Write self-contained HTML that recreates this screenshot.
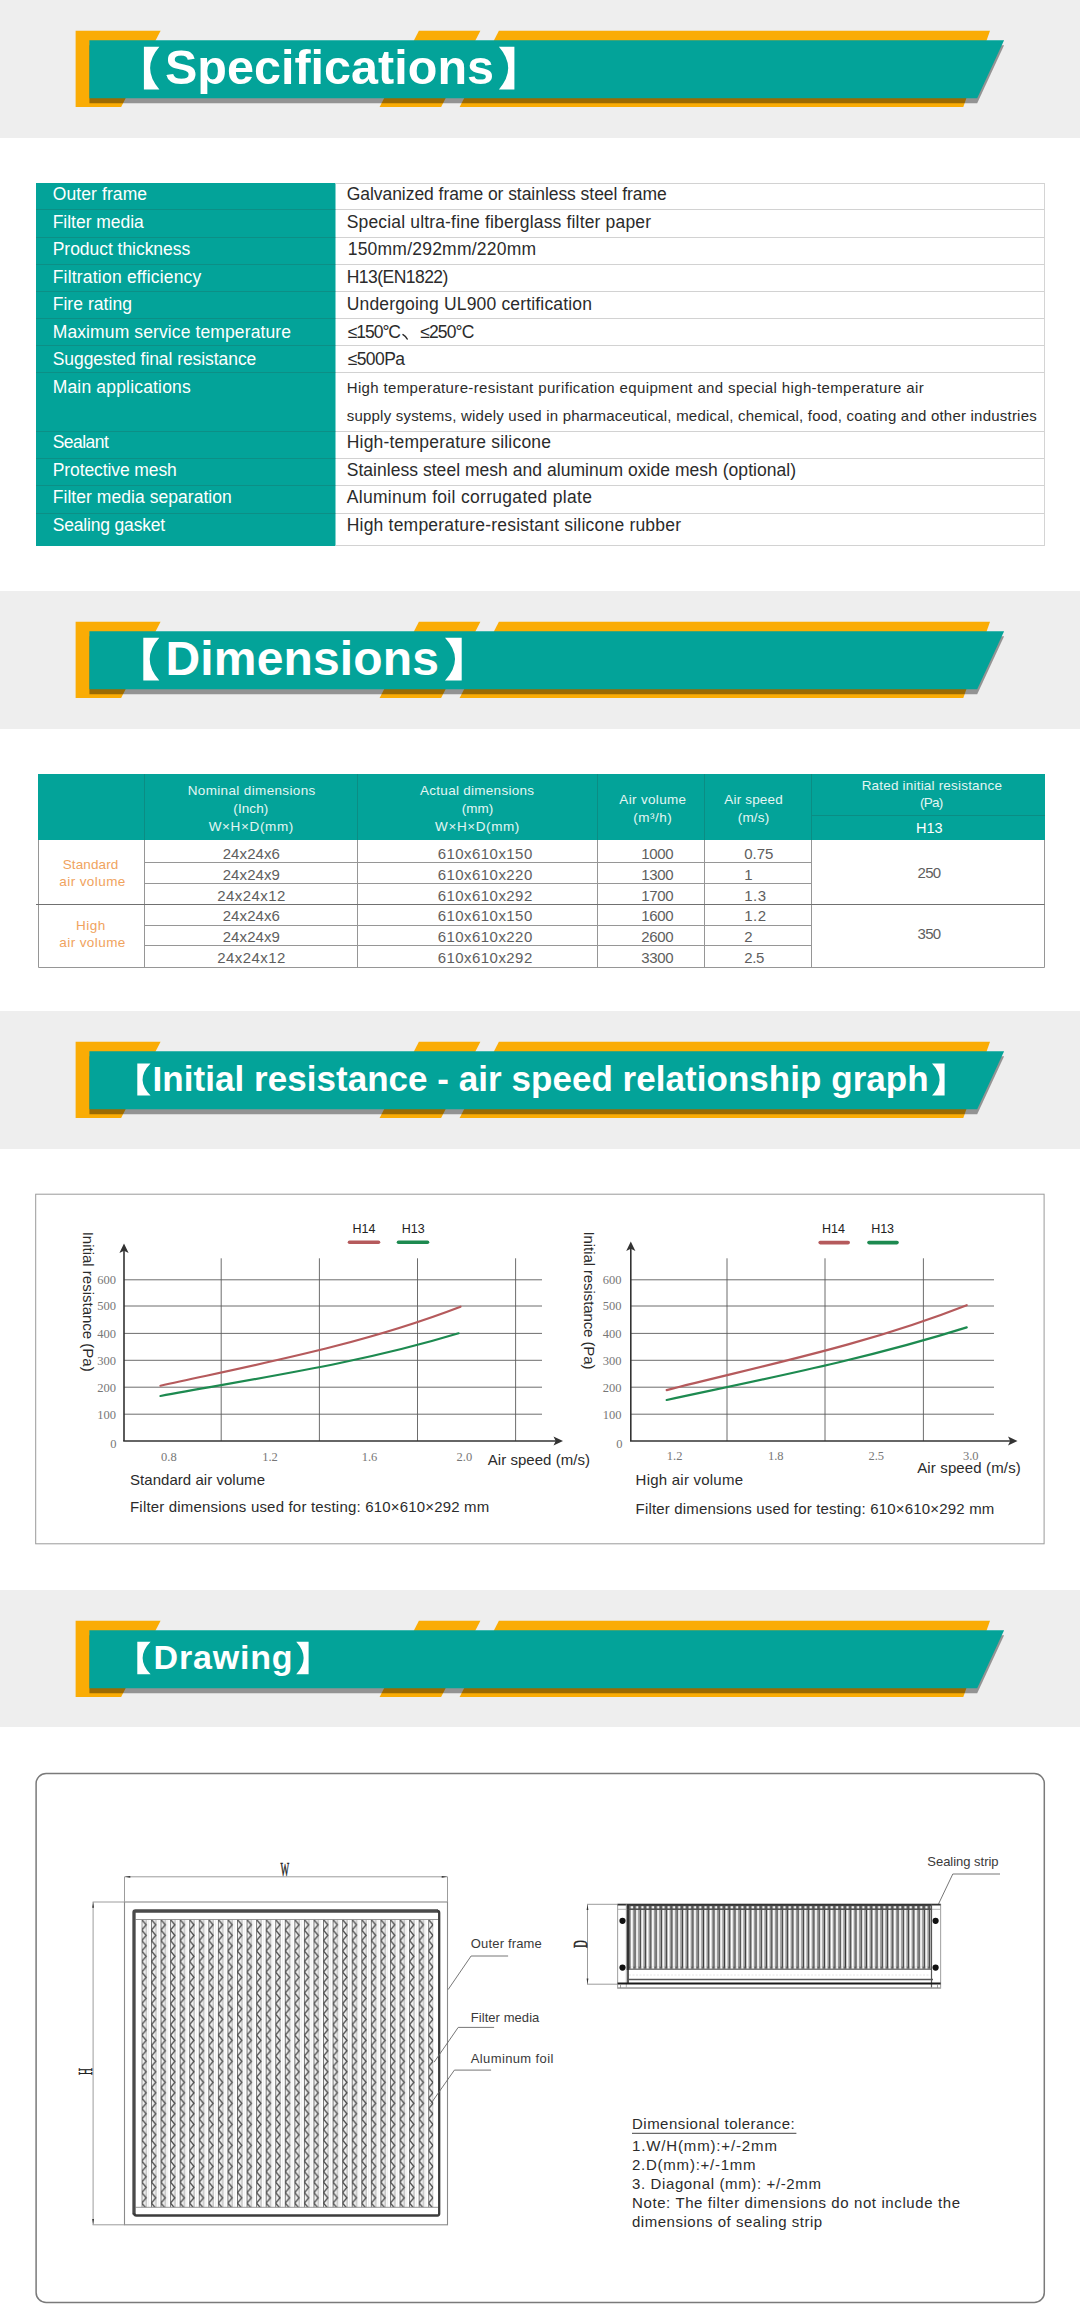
<!DOCTYPE html>
<html><head><meta charset="utf-8"><title>Specifications</title>
<style>
html,body{margin:0;padding:0;background:#fff;}
body{width:1080px;height:2322px;position:relative;overflow:hidden;font-family:"Liberation Sans",sans-serif;color:#222;}
.abs{position:absolute;}
.band{position:absolute;left:0;width:1080px;background:#eeeeee;}
.ttl{position:absolute;color:#fff;font-weight:bold;white-space:nowrap;line-height:1;}
.t1 td{padding:0;}
.spec{position:absolute;left:36px;top:183px;width:1008px;border-collapse:collapse;table-layout:fixed;}
.spec td{height:26.6px;border:1px solid #dcdcdc;font-size:17.5px;white-space:nowrap;overflow:hidden;padding:0 0 0 10px;line-height:20px;color:#2a2a2a;}
.spec td.k{background:#03a399;color:#fff;border-color:#0a8f86;padding-left:16px;border-left:none;}
.lbl{position:absolute;white-space:nowrap;line-height:1;}
</style></head><body>

<div class="band" style="top:0px;height:138.3px"></div>
<svg class="abs" style="left:0;top:0px" width="1080" height="138.3" viewBox="0 0 1080 138.3">
<g fill="#faac05">
<polygon points="75.6,30.8 160.6,30.8 121.1,107 75.6,107"/>
<polygon points="418.9,30.8 480.4,30.8 441.1,107 379.6,107"/>
<polygon points="498.9,30.8 990,30.8 963.3,107 459.6,107"/>
</g>
<polygon points="89.4,45.2 1004.1,45.2 977.2,103.3 89.4,103.3" fill="#000" fill-opacity="0.38"/>
<polygon points="89.4,40.2 1004.1,40.2 977.2,98.3 89.4,98.3" fill="#03a399"/>
<path d="M143.9,46.7 H159.4 Q140.80,68.05 159.4,89.4 H143.9 Z" fill="#fff"/>
<path d="M514.4,46.7 H498.9 Q517.50,68.05 498.9,89.4 H514.4 Z" fill="#fff"/>
<text x="165" y="84" font-family="Liberation Sans, sans-serif" font-weight="bold" font-size="48.5" fill="#fff" textLength="329" lengthAdjust="spacing">Specifications</text>
</svg>
<div class="band" style="top:590.5px;height:138.5px"></div>
<svg class="abs" style="left:0;top:590.5px" width="1080" height="138.5" viewBox="0 0 1080 138.5">
<g fill="#faac05">
<polygon points="75.6,30.8 160.6,30.8 121.1,107 75.6,107"/>
<polygon points="418.9,30.8 480.4,30.8 441.1,107 379.6,107"/>
<polygon points="498.9,30.8 990,30.8 963.3,107 459.6,107"/>
</g>
<polygon points="89.4,45.2 1004.1,45.2 977.2,103.3 89.4,103.3" fill="#000" fill-opacity="0.38"/>
<polygon points="89.4,40.2 1004.1,40.2 977.2,98.3 89.4,98.3" fill="#03a399"/>
<path d="M143.3,46.8 H159.3 Q140.10,68.15 159.3,89.5 H143.3 Z" fill="#fff"/>
<path d="M461.7,46.8 H445 Q465.04,68.15 445,89.5 H461.7 Z" fill="#fff"/>
<text x="165.5" y="83.5" font-family="Liberation Sans, sans-serif" font-weight="bold" font-size="48" fill="#fff" textLength="273.5" lengthAdjust="spacing">Dimensions</text>
</svg>
<div class="band" style="top:1011px;height:138px"></div>
<svg class="abs" style="left:0;top:1011px" width="1080" height="138" viewBox="0 0 1080 138">
<g fill="#faac05">
<polygon points="75.6,30.8 160.6,30.8 121.1,107 75.6,107"/>
<polygon points="418.9,30.8 480.4,30.8 441.1,107 379.6,107"/>
<polygon points="498.9,30.8 990,30.8 963.3,107 459.6,107"/>
</g>
<polygon points="89.4,45.2 1004.1,45.2 977.2,103.3 89.4,103.3" fill="#000" fill-opacity="0.38"/>
<polygon points="89.4,40.2 1004.1,40.2 977.2,98.3 89.4,98.3" fill="#03a399"/>
<path d="M137.3,52.4 H150.6 Q134.64,68.40 150.6,84.4 H137.3 Z" fill="#fff"/>
<path d="M944.6,52.4 H932 Q947.12,68.40 932,84.4 H944.6 Z" fill="#fff"/>
<text x="152.6" y="80" font-family="Liberation Sans, sans-serif" font-weight="bold" font-size="35" fill="#fff" textLength="776" lengthAdjust="spacing">Initial resistance - air speed relationship graph</text>
</svg>
<div class="band" style="top:1589.7px;height:137px"></div>
<svg class="abs" style="left:0;top:1589.7px" width="1080" height="137" viewBox="0 0 1080 137">
<g fill="#faac05">
<polygon points="75.6,30.8 160.6,30.8 121.1,107 75.6,107"/>
<polygon points="418.9,30.8 480.4,30.8 441.1,107 379.6,107"/>
<polygon points="498.9,30.8 990,30.8 963.3,107 459.6,107"/>
</g>
<polygon points="89.4,45.2 1004.1,45.2 977.2,103.3 89.4,103.3" fill="#000" fill-opacity="0.38"/>
<polygon points="89.4,40.2 1004.1,40.2 977.2,98.3 89.4,98.3" fill="#03a399"/>
<path d="M137.3,51.7 H150.6 Q134.64,68.00 150.6,84.3 H137.3 Z" fill="#fff"/>
<path d="M308.6,51.7 H296.2 Q311.08,68.00 296.2,84.3 H308.6 Z" fill="#fff"/>
<text x="153.6" y="79.2" font-family="Liberation Sans, sans-serif" font-weight="bold" font-size="34" fill="#fff" textLength="139" lengthAdjust="spacing">Drawing</text>
</svg>
<svg class="abs" style="left:0;top:0" width="1080" height="2322" viewBox="0 0 1080 2322">
<rect x="36" y="183" width="299.5" height="363" fill="#03a399"/>
<line x1="335.5" y1="183.5" x2="1045" y2="183.5" stroke="#d2d2d2" stroke-width="1"/>
<line x1="335.5" y1="209.5" x2="1045" y2="209.5" stroke="#d2d2d2" stroke-width="1"/>
<line x1="335.5" y1="237.5" x2="1045" y2="237.5" stroke="#d2d2d2" stroke-width="1"/>
<line x1="335.5" y1="264.5" x2="1045" y2="264.5" stroke="#d2d2d2" stroke-width="1"/>
<line x1="335.5" y1="291.5" x2="1045" y2="291.5" stroke="#d2d2d2" stroke-width="1"/>
<line x1="335.5" y1="318.5" x2="1045" y2="318.5" stroke="#d2d2d2" stroke-width="1"/>
<line x1="335.5" y1="345.5" x2="1045" y2="345.5" stroke="#d2d2d2" stroke-width="1"/>
<line x1="335.5" y1="372.5" x2="1045" y2="372.5" stroke="#d2d2d2" stroke-width="1"/>
<line x1="335.5" y1="431.5" x2="1045" y2="431.5" stroke="#d2d2d2" stroke-width="1"/>
<line x1="335.5" y1="458.5" x2="1045" y2="458.5" stroke="#d2d2d2" stroke-width="1"/>
<line x1="335.5" y1="485.5" x2="1045" y2="485.5" stroke="#d2d2d2" stroke-width="1"/>
<line x1="335.5" y1="513.5" x2="1045" y2="513.5" stroke="#d2d2d2" stroke-width="1"/>
<line x1="335.5" y1="545.5" x2="1045" y2="545.5" stroke="#d2d2d2" stroke-width="1"/>
<line x1="36" y1="209.5" x2="335.5" y2="209.5" stroke="#0c8f86" stroke-width="1"/>
<line x1="36" y1="237.5" x2="335.5" y2="237.5" stroke="#0c8f86" stroke-width="1"/>
<line x1="36" y1="264.5" x2="335.5" y2="264.5" stroke="#0c8f86" stroke-width="1"/>
<line x1="36" y1="291.5" x2="335.5" y2="291.5" stroke="#0c8f86" stroke-width="1"/>
<line x1="36" y1="318.5" x2="335.5" y2="318.5" stroke="#0c8f86" stroke-width="1"/>
<line x1="36" y1="345.5" x2="335.5" y2="345.5" stroke="#0c8f86" stroke-width="1"/>
<line x1="36" y1="372.5" x2="335.5" y2="372.5" stroke="#0c8f86" stroke-width="1"/>
<line x1="36" y1="431.5" x2="335.5" y2="431.5" stroke="#0c8f86" stroke-width="1"/>
<line x1="36" y1="458.5" x2="335.5" y2="458.5" stroke="#0c8f86" stroke-width="1"/>
<line x1="36" y1="485.5" x2="335.5" y2="485.5" stroke="#0c8f86" stroke-width="1"/>
<line x1="36" y1="513.5" x2="335.5" y2="513.5" stroke="#0c8f86" stroke-width="1"/>
<line x1="1044.5" y1="183" x2="1044.5" y2="546" stroke="#d4d4d4" stroke-width="1"/>
<text x="52.7" y="200.0" font-family="Liberation Sans, sans-serif" font-size="17.5" fill="#fff" textLength="94.4" lengthAdjust="spacing">Outer frame</text>
<text x="52.7" y="227.6" font-family="Liberation Sans, sans-serif" font-size="17.5" fill="#fff" textLength="91.1" lengthAdjust="spacing">Filter media</text>
<text x="52.7" y="255.1" font-family="Liberation Sans, sans-serif" font-size="17.5" fill="#fff" textLength="137.5" lengthAdjust="spacing">Product thickness</text>
<text x="52.7" y="282.6" font-family="Liberation Sans, sans-serif" font-size="17.5" fill="#fff" textLength="148.6" lengthAdjust="spacing">Filtration efficiency</text>
<text x="52.7" y="310.2" font-family="Liberation Sans, sans-serif" font-size="17.5" fill="#fff" textLength="79.2" lengthAdjust="spacing">Fire rating</text>
<text x="52.7" y="337.8" font-family="Liberation Sans, sans-serif" font-size="17.5" fill="#fff" textLength="238.3" lengthAdjust="spacing">Maximum service temperature</text>
<text x="52.7" y="365.3" font-family="Liberation Sans, sans-serif" font-size="17.5" fill="#fff" textLength="203.6" lengthAdjust="spacing">Suggested final resistance</text>
<text x="52.7" y="392.9" font-family="Liberation Sans, sans-serif" font-size="17.5" fill="#fff" textLength="138.0" lengthAdjust="spacing">Main applications</text>
<text x="52.7" y="448.0" font-family="Liberation Sans, sans-serif" font-size="17.5" fill="#fff" textLength="56.1" lengthAdjust="spacing">Sealant</text>
<text x="52.7" y="475.5" font-family="Liberation Sans, sans-serif" font-size="17.5" fill="#fff" textLength="124.1" lengthAdjust="spacing">Protective mesh</text>
<text x="52.7" y="503.1" font-family="Liberation Sans, sans-serif" font-size="17.5" fill="#fff" textLength="179.1" lengthAdjust="spacing">Filter media separation</text>
<text x="52.7" y="530.6" font-family="Liberation Sans, sans-serif" font-size="17.5" fill="#fff" textLength="112.5" lengthAdjust="spacing">Sealing gasket</text>
<text x="346.7" y="200.0" font-family="Liberation Sans, sans-serif" font-size="17.5" fill="#2b2b2b" textLength="320.0" lengthAdjust="spacing">Galvanized frame or stainless steel frame</text>
<text x="346.7" y="227.6" font-family="Liberation Sans, sans-serif" font-size="17.5" fill="#2b2b2b" textLength="304.3" lengthAdjust="spacing">Special ultra-fine fiberglass filter paper</text>
<text x="347.7" y="255.1" font-family="Liberation Sans, sans-serif" font-size="17.5" fill="#2b2b2b" textLength="188.3" lengthAdjust="spacing">150mm/292mm/220mm</text>
<text x="346.7" y="282.6" font-family="Liberation Sans, sans-serif" font-size="17.5" fill="#2b2b2b" textLength="101.7" lengthAdjust="spacing">H13(EN1822)</text>
<text x="346.7" y="310.2" font-family="Liberation Sans, sans-serif" font-size="17.5" fill="#2b2b2b" textLength="245.3" lengthAdjust="spacing">Undergoing UL900 certification</text>
<text x="347.7" y="365.3" font-family="Liberation Sans, sans-serif" font-size="17.5" fill="#2b2b2b" textLength="57.3" lengthAdjust="spacing">≤500Pa</text>
<text x="346.7" y="448.0" font-family="Liberation Sans, sans-serif" font-size="17.5" fill="#2b2b2b" textLength="204.3" lengthAdjust="spacing">High-temperature silicone</text>
<text x="346.7" y="475.5" font-family="Liberation Sans, sans-serif" font-size="17.5" fill="#2b2b2b" textLength="449.3" lengthAdjust="spacing">Stainless steel mesh and aluminum oxide mesh (optional)</text>
<text x="346.7" y="503.1" font-family="Liberation Sans, sans-serif" font-size="17.5" fill="#2b2b2b" textLength="245.3" lengthAdjust="spacing">Aluminum foil corrugated plate</text>
<text x="346.7" y="530.6" font-family="Liberation Sans, sans-serif" font-size="17.5" fill="#2b2b2b" textLength="334.3" lengthAdjust="spacing">High temperature-resistant silicone rubber</text>
<text x="347.7" y="337.8" font-family="Liberation Sans, sans-serif" font-size="17.5" fill="#2b2b2b" textLength="53.3" lengthAdjust="spacing">≤150°C</text>
<path d="M403,334.6 q2.8,1.6 4.2,4.4" stroke="#2b2b2b" stroke-width="1.5" fill="none" stroke-linecap="round"/>
<text x="420.3" y="337.8" font-family="Liberation Sans, sans-serif" font-size="17.5" fill="#2b2b2b" textLength="54.0" lengthAdjust="spacing">≤250°C</text>
<text x="346.7" y="393.3" font-family="Liberation Sans, sans-serif" font-size="15" fill="#2b2b2b" textLength="577.0" lengthAdjust="spacing">High temperature-resistant purification equipment and special high-temperature air</text>
<text x="346.7" y="421.0" font-family="Liberation Sans, sans-serif" font-size="15" fill="#2b2b2b" textLength="690.0" lengthAdjust="spacing">supply systems, widely used in pharmaceutical, medical, chemical, food, coating and other industries</text>
<rect x="38" y="774" width="1007" height="66" fill="#03a399"/>
<line x1="144.5" y1="774" x2="144.5" y2="840" stroke="#0b8d84" stroke-width="1"/>
<line x1="357.5" y1="774" x2="357.5" y2="840" stroke="#0b8d84" stroke-width="1"/>
<line x1="597.5" y1="774" x2="597.5" y2="840" stroke="#0b8d84" stroke-width="1"/>
<line x1="704.5" y1="774" x2="704.5" y2="840" stroke="#0b8d84" stroke-width="1"/>
<line x1="811.5" y1="774" x2="811.5" y2="840" stroke="#0b8d84" stroke-width="1"/>
<line x1="811.5" y1="815.5" x2="1045" y2="815.5" stroke="#0b8d84" stroke-width="1"/>
<path d="M38.5,840 V967.5 H1044.5 V840" fill="none" stroke="#969696" stroke-width="1"/>
<line x1="144.5" y1="840" x2="144.5" y2="967.5" stroke="#969696" stroke-width="1"/>
<line x1="357.5" y1="840" x2="357.5" y2="967.5" stroke="#969696" stroke-width="1"/>
<line x1="597.5" y1="840" x2="597.5" y2="967.5" stroke="#969696" stroke-width="1"/>
<line x1="704.5" y1="840" x2="704.5" y2="967.5" stroke="#969696" stroke-width="1"/>
<line x1="811.5" y1="840" x2="811.5" y2="967.5" stroke="#969696" stroke-width="1"/>
<line x1="144.5" y1="862.5" x2="811.5" y2="862.5" stroke="#969696" stroke-width="1"/>
<line x1="144.5" y1="883.5" x2="811.5" y2="883.5" stroke="#969696" stroke-width="1"/>
<line x1="144.5" y1="925.5" x2="811.5" y2="925.5" stroke="#969696" stroke-width="1"/>
<line x1="144.5" y1="945.5" x2="811.5" y2="945.5" stroke="#969696" stroke-width="1"/>
<line x1="36" y1="904.5" x2="1044.5" y2="904.5" stroke="#707070" stroke-width="1"/>
<text x="251.5" y="794.7" font-family="Liberation Sans, sans-serif" font-size="13.5" fill="#e4f6f4" text-anchor="middle" textLength="127.6" lengthAdjust="spacing">Nominal dimensions</text>
<text x="250.8" y="813.0" font-family="Liberation Sans, sans-serif" font-size="13.5" fill="#e4f6f4" text-anchor="middle" textLength="35.0" lengthAdjust="spacing">(Inch)</text>
<text x="251.0" y="830.7" font-family="Liberation Sans, sans-serif" font-size="13.5" fill="#e4f6f4" text-anchor="middle" textLength="84.6" lengthAdjust="spacing">W×H×D(mm)</text>
<text x="477.0" y="794.7" font-family="Liberation Sans, sans-serif" font-size="13.5" fill="#e4f6f4" text-anchor="middle" textLength="114.0" lengthAdjust="spacing">Actual dimensions</text>
<text x="477.5" y="813.0" font-family="Liberation Sans, sans-serif" font-size="13.5" fill="#e4f6f4" text-anchor="middle" textLength="31.6" lengthAdjust="spacing">(mm)</text>
<text x="477.2" y="830.7" font-family="Liberation Sans, sans-serif" font-size="13.5" fill="#e4f6f4" text-anchor="middle" textLength="84.3" lengthAdjust="spacing">W×H×D(mm)</text>
<text x="652.7" y="803.7" font-family="Liberation Sans, sans-serif" font-size="13.5" fill="#e4f6f4" text-anchor="middle" textLength="66.7" lengthAdjust="spacing">Air volume</text>
<text x="652.5" y="822.0" font-family="Liberation Sans, sans-serif" font-size="13.5" fill="#e4f6f4" text-anchor="middle" textLength="38.4" lengthAdjust="spacing">(m³/h)</text>
<text x="753.5" y="803.7" font-family="Liberation Sans, sans-serif" font-size="13.5" fill="#e4f6f4" text-anchor="middle" textLength="58.4" lengthAdjust="spacing">Air speed</text>
<text x="753.5" y="822.0" font-family="Liberation Sans, sans-serif" font-size="13.5" fill="#e4f6f4" text-anchor="middle" textLength="31.6" lengthAdjust="spacing">(m/s)</text>
<text x="931.8" y="789.7" font-family="Liberation Sans, sans-serif" font-size="13.5" fill="#e4f6f4" text-anchor="middle" textLength="140.3" lengthAdjust="spacing">Rated initial resistance</text>
<text x="931.7" y="807.3" font-family="Liberation Sans, sans-serif" font-size="13.5" fill="#e4f6f4" text-anchor="middle" textLength="23.3" lengthAdjust="spacing">(Pa)</text>
<text x="929.3" y="833.0" font-family="Liberation Sans, sans-serif" font-size="14.5" fill="#fff" text-anchor="middle" textLength="26.7" lengthAdjust="spacing">H13</text>
<text x="90.5" y="869.0" font-family="Liberation Sans, sans-serif" font-size="13.5" fill="#f0a35e" text-anchor="middle" textLength="55.6" lengthAdjust="spacing">Standard</text>
<text x="92.3" y="886.3" font-family="Liberation Sans, sans-serif" font-size="13.5" fill="#f0a35e" text-anchor="middle" textLength="66.0" lengthAdjust="spacing">air volume</text>
<text x="90.7" y="929.7" font-family="Liberation Sans, sans-serif" font-size="13.5" fill="#f0a35e" text-anchor="middle" textLength="29.3" lengthAdjust="spacing">High</text>
<text x="92.3" y="947.0" font-family="Liberation Sans, sans-serif" font-size="13.5" fill="#f0a35e" text-anchor="middle" textLength="66.0" lengthAdjust="spacing">air volume</text>
<text x="251.3" y="858.7" font-family="Liberation Sans, sans-serif" font-size="15" fill="#5e5e5e" text-anchor="middle" textLength="57.3" lengthAdjust="spacing">24x24x6</text>
<text x="485.0" y="858.7" font-family="Liberation Sans, sans-serif" font-size="15" fill="#5e5e5e" text-anchor="middle" textLength="94.5" lengthAdjust="spacing">610x610x150</text>
<text x="657.5" y="858.7" font-family="Liberation Sans, sans-serif" font-size="15" fill="#5e5e5e" text-anchor="middle" textLength="32.3" lengthAdjust="spacing">1000</text>
<text x="744.3" y="858.7" font-family="Liberation Sans, sans-serif" font-size="15" fill="#5e5e5e" textLength="29.0" lengthAdjust="spacing">0.75</text>
<text x="251.3" y="879.7" font-family="Liberation Sans, sans-serif" font-size="15" fill="#5e5e5e" text-anchor="middle" textLength="57.3" lengthAdjust="spacing">24x24x9</text>
<text x="485.0" y="879.7" font-family="Liberation Sans, sans-serif" font-size="15" fill="#5e5e5e" text-anchor="middle" textLength="94.5" lengthAdjust="spacing">610x610x220</text>
<text x="657.5" y="879.7" font-family="Liberation Sans, sans-serif" font-size="15" fill="#5e5e5e" text-anchor="middle" textLength="32.3" lengthAdjust="spacing">1300</text>
<text x="744.3" y="879.7" font-family="Liberation Sans, sans-serif" font-size="15" fill="#5e5e5e">1</text>
<text x="251.3" y="900.7" font-family="Liberation Sans, sans-serif" font-size="15" fill="#5e5e5e" text-anchor="middle" textLength="68.0" lengthAdjust="spacing">24x24x12</text>
<text x="485.0" y="900.7" font-family="Liberation Sans, sans-serif" font-size="15" fill="#5e5e5e" text-anchor="middle" textLength="94.5" lengthAdjust="spacing">610x610x292</text>
<text x="657.5" y="900.7" font-family="Liberation Sans, sans-serif" font-size="15" fill="#5e5e5e" text-anchor="middle" textLength="32.3" lengthAdjust="spacing">1700</text>
<text x="744.3" y="900.7" font-family="Liberation Sans, sans-serif" font-size="15" fill="#5e5e5e" textLength="21.7" lengthAdjust="spacing">1.3</text>
<text x="251.3" y="921.4" font-family="Liberation Sans, sans-serif" font-size="15" fill="#5e5e5e" text-anchor="middle" textLength="57.3" lengthAdjust="spacing">24x24x6</text>
<text x="485.0" y="921.4" font-family="Liberation Sans, sans-serif" font-size="15" fill="#5e5e5e" text-anchor="middle" textLength="94.5" lengthAdjust="spacing">610x610x150</text>
<text x="657.5" y="921.4" font-family="Liberation Sans, sans-serif" font-size="15" fill="#5e5e5e" text-anchor="middle" textLength="32.3" lengthAdjust="spacing">1600</text>
<text x="744.3" y="921.4" font-family="Liberation Sans, sans-serif" font-size="15" fill="#5e5e5e" textLength="21.7" lengthAdjust="spacing">1.2</text>
<text x="251.3" y="942.0" font-family="Liberation Sans, sans-serif" font-size="15" fill="#5e5e5e" text-anchor="middle" textLength="57.3" lengthAdjust="spacing">24x24x9</text>
<text x="485.0" y="942.0" font-family="Liberation Sans, sans-serif" font-size="15" fill="#5e5e5e" text-anchor="middle" textLength="94.5" lengthAdjust="spacing">610x610x220</text>
<text x="657.5" y="942.0" font-family="Liberation Sans, sans-serif" font-size="15" fill="#5e5e5e" text-anchor="middle" textLength="32.3" lengthAdjust="spacing">2600</text>
<text x="744.3" y="942.0" font-family="Liberation Sans, sans-serif" font-size="15" fill="#5e5e5e">2</text>
<text x="251.3" y="963.0" font-family="Liberation Sans, sans-serif" font-size="15" fill="#5e5e5e" text-anchor="middle" textLength="68.0" lengthAdjust="spacing">24x24x12</text>
<text x="485.0" y="963.0" font-family="Liberation Sans, sans-serif" font-size="15" fill="#5e5e5e" text-anchor="middle" textLength="94.5" lengthAdjust="spacing">610x610x292</text>
<text x="657.5" y="963.0" font-family="Liberation Sans, sans-serif" font-size="15" fill="#5e5e5e" text-anchor="middle" textLength="32.3" lengthAdjust="spacing">3300</text>
<text x="744.3" y="963.0" font-family="Liberation Sans, sans-serif" font-size="15" fill="#5e5e5e" textLength="20.0" lengthAdjust="spacing">2.5</text>
<text x="929.3" y="878.0" font-family="Liberation Sans, sans-serif" font-size="15" fill="#5e5e5e" text-anchor="middle" textLength="23.5" lengthAdjust="spacing">250</text>
<text x="929.3" y="938.7" font-family="Liberation Sans, sans-serif" font-size="15" fill="#5e5e5e" text-anchor="middle" textLength="23.5" lengthAdjust="spacing">350</text>
<rect x="35.7" y="1194.2" width="1008.4" height="349.6" fill="none" stroke="#9a9a9a" stroke-width="1"/>
<line x1="124" y1="1279.8" x2="542" y2="1279.8" stroke="#5c5c5c" stroke-width="0.9"/>
<line x1="124" y1="1306" x2="542" y2="1306" stroke="#5c5c5c" stroke-width="0.9"/>
<line x1="124" y1="1333.4" x2="542" y2="1333.4" stroke="#5c5c5c" stroke-width="0.9"/>
<line x1="124" y1="1360.3" x2="542" y2="1360.3" stroke="#5c5c5c" stroke-width="0.9"/>
<line x1="124" y1="1387.2" x2="542" y2="1387.2" stroke="#5c5c5c" stroke-width="0.9"/>
<line x1="124" y1="1414.2" x2="542" y2="1414.2" stroke="#5c5c5c" stroke-width="0.9"/>
<line x1="221.2" y1="1258.3" x2="221.2" y2="1441" stroke="#5c5c5c" stroke-width="0.9"/>
<line x1="319.4" y1="1258.3" x2="319.4" y2="1441" stroke="#5c5c5c" stroke-width="0.9"/>
<line x1="417.5" y1="1258.3" x2="417.5" y2="1441" stroke="#5c5c5c" stroke-width="0.9"/>
<line x1="515.6" y1="1258.3" x2="515.6" y2="1441" stroke="#5c5c5c" stroke-width="0.9"/>
<line x1="124" y1="1441" x2="124" y2="1249.5" stroke="#333" stroke-width="1.6"/>
<line x1="123.2" y1="1441" x2="557" y2="1441" stroke="#333" stroke-width="1.6"/>
<path d="M124,1243.5 l-4.6,9.5 l4.6,-2.2 l4.6,2.2 z" fill="#333"/>
<path d="M563,1441 l-9.5,-4.6 l2.2,4.6 l-2.2,4.6 z" fill="#333"/>
<text x="116.0" y="1284.1" font-family="Liberation Serif, sans-serif" font-size="12.5" fill="#777" text-anchor="end">600</text>
<text x="116.0" y="1310.3" font-family="Liberation Serif, sans-serif" font-size="12.5" fill="#777" text-anchor="end">500</text>
<text x="116.0" y="1337.7" font-family="Liberation Serif, sans-serif" font-size="12.5" fill="#777" text-anchor="end">400</text>
<text x="116.0" y="1364.6" font-family="Liberation Serif, sans-serif" font-size="12.5" fill="#777" text-anchor="end">300</text>
<text x="116.0" y="1391.5" font-family="Liberation Serif, sans-serif" font-size="12.5" fill="#777" text-anchor="end">200</text>
<text x="116.0" y="1418.5" font-family="Liberation Serif, sans-serif" font-size="12.5" fill="#777" text-anchor="end">100</text>
<text x="116.5" y="1448.3" font-family="Liberation Serif, sans-serif" font-size="12.5" fill="#777" text-anchor="end">0</text>
<text x="168.9" y="1460.8" font-family="Liberation Serif, sans-serif" font-size="12.5" fill="#777" text-anchor="middle">0.8</text>
<text x="270.0" y="1460.8" font-family="Liberation Serif, sans-serif" font-size="12.5" fill="#777" text-anchor="middle">1.2</text>
<text x="369.5" y="1460.8" font-family="Liberation Serif, sans-serif" font-size="12.5" fill="#777" text-anchor="middle">1.6</text>
<text x="464.4" y="1460.8" font-family="Liberation Serif, sans-serif" font-size="12.5" fill="#777" text-anchor="middle">2.0</text>
<text x="487.7" y="1465.4" font-family="Liberation Sans, sans-serif" font-size="15" fill="#2b2b2b" textLength="102.3" lengthAdjust="spacing">Air speed (m/s)</text>
<text x="130.0" y="1484.6" font-family="Liberation Sans, sans-serif" font-size="15" fill="#2b2b2b" textLength="135.0" lengthAdjust="spacing">Standard air volume</text>
<text x="130.0" y="1512.2" font-family="Liberation Sans, sans-serif" font-size="15" fill="#2b2b2b" textLength="359.3" lengthAdjust="spacing">Filter dimensions used for testing: 610×610×292 mm</text>
<text transform="translate(82.5,1231.7) rotate(90)" font-family="Liberation Sans, sans-serif" font-size="15" fill="#2b2b2b" textLength="140" lengthAdjust="spacing">Initial resistance (Pa)</text>
<text x="363.9" y="1233.4" font-family="Liberation Sans, sans-serif" font-size="12.5" fill="#222" text-anchor="middle">H14</text>
<text x="413.3" y="1233.4" font-family="Liberation Sans, sans-serif" font-size="12.5" fill="#222" text-anchor="middle">H13</text>
<line x1="349.5" y1="1242.3" x2="378.5" y2="1242.3" stroke="#b55a5c" stroke-width="3.6" stroke-linecap="round"/>
<line x1="398.5" y1="1242.3" x2="427.5" y2="1242.3" stroke="#1d8a50" stroke-width="3.6" stroke-linecap="round"/>
<path d="M160.5,1385.7 C260.5,1363.6 360.5,1345.1 460.5,1306.7" fill="none" stroke="#b55a5c" stroke-width="2.2" stroke-linecap="round"/>
<path d="M160.5,1396.0 C259.9,1377.7 359.2,1363.5 458.6,1333.3" fill="none" stroke="#1d8a50" stroke-width="2.2" stroke-linecap="round"/>
<line x1="630.8" y1="1279.8" x2="994" y2="1279.8" stroke="#5c5c5c" stroke-width="0.9"/>
<line x1="630.8" y1="1306" x2="994" y2="1306" stroke="#5c5c5c" stroke-width="0.9"/>
<line x1="630.8" y1="1333.4" x2="994" y2="1333.4" stroke="#5c5c5c" stroke-width="0.9"/>
<line x1="630.8" y1="1360.3" x2="994" y2="1360.3" stroke="#5c5c5c" stroke-width="0.9"/>
<line x1="630.8" y1="1387.2" x2="994" y2="1387.2" stroke="#5c5c5c" stroke-width="0.9"/>
<line x1="630.8" y1="1414.2" x2="994" y2="1414.2" stroke="#5c5c5c" stroke-width="0.9"/>
<line x1="727" y1="1258.3" x2="727" y2="1441" stroke="#5c5c5c" stroke-width="0.9"/>
<line x1="825" y1="1258.3" x2="825" y2="1441" stroke="#5c5c5c" stroke-width="0.9"/>
<line x1="923.4" y1="1258.3" x2="923.4" y2="1441" stroke="#5c5c5c" stroke-width="0.9"/>
<line x1="630.8" y1="1441" x2="630.8" y2="1247.5" stroke="#333" stroke-width="1.6"/>
<line x1="630.0" y1="1441" x2="1011.5" y2="1441" stroke="#333" stroke-width="1.6"/>
<path d="M630.8,1241.5 l-4.6,9.5 l4.6,-2.2 l4.6,2.2 z" fill="#333"/>
<path d="M1017.5,1441 l-9.5,-4.6 l2.2,4.6 l-2.2,4.6 z" fill="#333"/>
<text x="621.6" y="1284.1" font-family="Liberation Serif, sans-serif" font-size="12.5" fill="#777" text-anchor="end">600</text>
<text x="621.6" y="1310.3" font-family="Liberation Serif, sans-serif" font-size="12.5" fill="#777" text-anchor="end">500</text>
<text x="621.6" y="1337.7" font-family="Liberation Serif, sans-serif" font-size="12.5" fill="#777" text-anchor="end">400</text>
<text x="621.6" y="1364.6" font-family="Liberation Serif, sans-serif" font-size="12.5" fill="#777" text-anchor="end">300</text>
<text x="621.6" y="1391.5" font-family="Liberation Serif, sans-serif" font-size="12.5" fill="#777" text-anchor="end">200</text>
<text x="621.6" y="1418.5" font-family="Liberation Serif, sans-serif" font-size="12.5" fill="#777" text-anchor="end">100</text>
<text x="622.5" y="1448.3" font-family="Liberation Serif, sans-serif" font-size="12.5" fill="#777" text-anchor="end">0</text>
<text x="674.6" y="1459.6" font-family="Liberation Serif, sans-serif" font-size="12.5" fill="#777" text-anchor="middle">1.2</text>
<text x="775.7" y="1459.6" font-family="Liberation Serif, sans-serif" font-size="12.5" fill="#777" text-anchor="middle">1.8</text>
<text x="876.3" y="1459.6" font-family="Liberation Serif, sans-serif" font-size="12.5" fill="#777" text-anchor="middle">2.5</text>
<text x="970.7" y="1459.6" font-family="Liberation Serif, sans-serif" font-size="12.5" fill="#777" text-anchor="middle">3.0</text>
<text x="917.2" y="1473.0" font-family="Liberation Sans, sans-serif" font-size="15" fill="#2b2b2b" textLength="103.6" lengthAdjust="spacing">Air speed (m/s)</text>
<text x="635.6" y="1485.0" font-family="Liberation Sans, sans-serif" font-size="15" fill="#2b2b2b" textLength="107.4" lengthAdjust="spacing">High air volume</text>
<text x="635.6" y="1513.5" font-family="Liberation Sans, sans-serif" font-size="15" fill="#2b2b2b" textLength="358.7" lengthAdjust="spacing">Filter dimensions used for testing: 610×610×292 mm</text>
<text transform="translate(583.6,1231.5) rotate(90)" font-family="Liberation Sans, sans-serif" font-size="15" fill="#2b2b2b" textLength="138" lengthAdjust="spacing">Initial resistance (Pa)</text>
<text x="833.5" y="1232.6" font-family="Liberation Sans, sans-serif" font-size="12.5" fill="#222" text-anchor="middle">H14</text>
<text x="882.6" y="1232.6" font-family="Liberation Sans, sans-serif" font-size="12.5" fill="#222" text-anchor="middle">H13</text>
<line x1="820.2" y1="1242.6" x2="848.2" y2="1242.6" stroke="#b55a5c" stroke-width="3.6" stroke-linecap="round"/>
<line x1="869" y1="1242.6" x2="897" y2="1242.6" stroke="#1d8a50" stroke-width="3.6" stroke-linecap="round"/>
<path d="M666.7,1390.1 C766.7,1364.7 866.7,1344.6 966.7,1305.2" fill="none" stroke="#b55a5c" stroke-width="2.2" stroke-linecap="round"/>
<path d="M666.7,1400.0 C766.7,1378.5 866.7,1359.0 966.7,1327.4" fill="none" stroke="#1d8a50" stroke-width="2.2" stroke-linecap="round"/>
<rect x="36.1" y="1773.6" width="1008.2" height="528.8" rx="10" ry="10" fill="none" stroke="#7a7a7a" stroke-width="1.5"/>
<defs>
<pattern id="zz" x="141.4" y="1919.6" width="9.56" height="10.5" patternUnits="userSpaceOnUse">
<rect x="0" y="0" width="5.1" height="10.5" fill="#efefef"/>
<line x1="0.4" y1="0" x2="0.4" y2="10.5" stroke="#6e6e6e" stroke-width="1"/>
<line x1="4.9" y1="0" x2="4.9" y2="10.5" stroke="#a0a0a0" stroke-width="0.9"/>
<polyline points="0.4,0 4.8,5.25 0.4,10.5" fill="none" stroke="#4c4c4c" stroke-width="1.35"/>
<line x1="7.3" y1="0" x2="7.3" y2="10.5" stroke="#e2e2e2" stroke-width="0.6"/>
</pattern>
<pattern id="pl" x="629.4" y="1909.6" width="5.26" height="60" patternUnits="userSpaceOnUse">
<rect x="0" y="0" width="5.26" height="60" fill="#fff"/>
<rect x="0" y="0" width="1.15" height="60" fill="#3a3a3a"/>
<rect x="3.3" y="0" width="1.96" height="60" fill="#9c9c9c"/>
</pattern>
<pattern id="plcap" x="629.4" y="1905" width="5.26" height="5" patternUnits="userSpaceOnUse">
<rect x="0" y="0" width="5.26" height="5" fill="#555"/>
<rect x="1.3" y="1.2" width="2.4" height="2.3" fill="#f4f4f4"/>
</pattern>
</defs>
<rect x="124.5" y="1902" width="323" height="322.8" fill="#fff" stroke="#8a8a8a" stroke-width="1.1"/>
<line x1="124.5" y1="1876.8" x2="447.5" y2="1876.8" stroke="#9c9c9c" stroke-width="1"/>
<line x1="124.5" y1="1876.8" x2="124.5" y2="1902" stroke="#9c9c9c" stroke-width="1"/>
<line x1="447.5" y1="1876.8" x2="447.5" y2="1902" stroke="#9c9c9c" stroke-width="1"/>
<path d="M124.8,1876.8 l5.5,-0.9 v1.8 z M447.2,1876.8 l-5.5,-0.9 v1.8 z" fill="#333"/>
<line x1="93.1" y1="1902" x2="93.1" y2="2224.8" stroke="#9c9c9c" stroke-width="1"/>
<line x1="92.6" y1="1902" x2="124.5" y2="1902" stroke="#9c9c9c" stroke-width="1"/>
<line x1="92.6" y1="2224.8" x2="124.5" y2="2224.8" stroke="#9c9c9c" stroke-width="1"/>
<path d="M93.1,1902.3 l-0.9,5.5 h1.8 z M93.1,2224.5 l-0.9,-5.5 h1.8 z" fill="#333"/>
<text transform="translate(284.9,1876.4) scale(0.48,1)" font-family="Liberation Serif, serif" font-size="19" fill="#222" stroke="#222" stroke-width="0.5" text-anchor="middle">W</text>
<text transform="translate(92,2071.6) rotate(-90) scale(0.5,1)" font-family="Liberation Serif, serif" font-size="19" fill="#222" stroke="#222" stroke-width="0.5" text-anchor="middle">H</text>
<rect x="135.6" y="1912.6" width="303" height="301.8" fill="#fff"/>
<rect x="141.4" y="1919.6" width="291.9" height="287.6" fill="url(#zz)"/>
<line x1="135.6" y1="1919.5" x2="438.4" y2="1919.5" stroke="#8a8a8a" stroke-width="0.9"/>
<line x1="135.6" y1="2207.3" x2="438.4" y2="2207.3" stroke="#8a8a8a" stroke-width="0.9"/>
<path d="M134,2214.6 V1912.4 Q134,1911 135.4,1911 H438" fill="none" stroke="#4a4a4a" stroke-width="3.3"/>
<path d="M134,2213 Q134,2215.5 136.5,2215.5 H437.5 Q439.2,2215.5 439.2,2213.5 V1912.8 Q439.2,1911 437.5,1911" fill="none" stroke="#3c3c3c" stroke-width="2.3"/>
<polyline points="508.1,1956 471.1,1956 448.1,1989.6" fill="none" stroke="#666" stroke-width="0.9"/>
<polyline points="494.1,2027.4 458.2,2027.4 434.1,2062.2" fill="none" stroke="#666" stroke-width="0.9"/>
<polyline points="491.1,2070.1 454.4,2070.1 430.8,2103.7" fill="none" stroke="#666" stroke-width="0.9"/>
<text x="470.8" y="1948.1" font-family="Liberation Sans, sans-serif" font-size="13" fill="#3a3a3a" textLength="71.0" lengthAdjust="spacing">Outer frame</text>
<text x="470.8" y="2022.2" font-family="Liberation Sans, sans-serif" font-size="13" fill="#3a3a3a" textLength="68.5" lengthAdjust="spacing">Filter media</text>
<text x="470.8" y="2063.4" font-family="Liberation Sans, sans-serif" font-size="13" fill="#3a3a3a" textLength="82.5" lengthAdjust="spacing">Aluminum foil</text>
<line x1="587.5" y1="1904.3" x2="587.5" y2="1984.2" stroke="#9c9c9c" stroke-width="1"/>
<line x1="587" y1="1904.3" x2="617.5" y2="1904.3" stroke="#9c9c9c" stroke-width="1"/>
<line x1="587" y1="1984.2" x2="617.5" y2="1984.2" stroke="#9c9c9c" stroke-width="1"/>
<path d="M587.5,1904.6 l-0.9,5.5 h1.8 z M587.5,1983.9 l-0.9,-5.5 h1.8 z" fill="#333"/>
<text transform="translate(586.6,1944.2) rotate(-90) scale(0.6,1)" font-family="Liberation Serif, serif" font-size="18" fill="#222" stroke="#222" stroke-width="0.5" text-anchor="middle">D</text>
<rect x="617.6" y="1904.4" width="323" height="83.7" fill="#fff" stroke="#a8a8a8" stroke-width="1.1"/>
<rect x="629.4" y="1909.6" width="302" height="58.8" fill="url(#pl)"/>
<rect x="629.4" y="1905" width="302" height="4.8" fill="url(#plcap)"/>
<rect x="629.4" y="1966.6" width="302" height="3.4" fill="url(#plcap)" opacity="0.75"/>
<rect x="626.3" y="1905" width="3.2" height="65" fill="#333"/>
<line x1="617.6" y1="1904.6" x2="940.6" y2="1904.6" stroke="#333" stroke-width="1.6"/>
<line x1="626.3" y1="1909.3" x2="931.5" y2="1909.3" stroke="#444" stroke-width="0.9"/>
<line x1="617.6" y1="1909.3" x2="626.3" y2="1909.3" stroke="#aaa" stroke-width="0.9"/>
<line x1="931.5" y1="1909.3" x2="940.6" y2="1909.3" stroke="#aaa" stroke-width="0.9"/>
<line x1="626.3" y1="1904.4" x2="626.3" y2="1988" stroke="#aaa" stroke-width="0.9"/>
<line x1="931.5" y1="1904.4" x2="931.5" y2="1988" stroke="#555" stroke-width="1.2"/>
<line x1="628" y1="1970" x2="628" y2="1984" stroke="#333" stroke-width="1.6"/>
<line x1="629" y1="1975" x2="931" y2="1975" stroke="#ddd" stroke-width="0.8" stroke-dasharray="2 1.5"/>
<line x1="627" y1="1979.5" x2="933" y2="1979.5" stroke="#555" stroke-width="1.3"/>
<line x1="617.6" y1="1983.5" x2="940.6" y2="1983.5" stroke="#1a1a1a" stroke-width="1.9"/>
<line x1="617.6" y1="1988" x2="940.6" y2="1988" stroke="#a4a4a4" stroke-width="1.4"/>
<line x1="620.5" y1="1984" x2="620.5" y2="1988" stroke="#888" stroke-width="0.8"/>
<line x1="937.5" y1="1984" x2="937.5" y2="1988" stroke="#888" stroke-width="0.8"/>
<circle cx="622.5" cy="1920.8" r="3.1" fill="#111"/>
<circle cx="622.5" cy="1967.6" r="3.1" fill="#111"/>
<circle cx="935.6" cy="1920.8" r="3.1" fill="#111"/>
<circle cx="935.6" cy="1967.6" r="3.1" fill="#111"/>
<polyline points="1000,1874 952.8,1874 938.5,1904" fill="none" stroke="#666" stroke-width="0.9"/>
<text x="927.3" y="1866.0" font-family="Liberation Sans, sans-serif" font-size="13" fill="#3a3a3a" textLength="71.3" lengthAdjust="spacing">Sealing strip</text>
<text x="632.0" y="2129.1" font-family="Liberation Sans, sans-serif" font-size="15" fill="#2b2b2b" textLength="162.7" lengthAdjust="spacing">Dimensional tolerance:</text>
<line x1="632" y1="2133.3" x2="796.4" y2="2133.3" stroke="#444" stroke-width="1"/>
<text x="632.0" y="2150.9" font-family="Liberation Sans, sans-serif" font-size="15" fill="#2b2b2b" textLength="144.9" lengthAdjust="spacing">1.W/H(mm):+/-2mm</text>
<text x="632.0" y="2170.0" font-family="Liberation Sans, sans-serif" font-size="15" fill="#2b2b2b" textLength="123.6" lengthAdjust="spacing">2.D(mm):+/-1mm</text>
<text x="632.0" y="2188.8" font-family="Liberation Sans, sans-serif" font-size="15" fill="#2b2b2b" textLength="188.9" lengthAdjust="spacing">3. Diagonal (mm): +/-2mm</text>
<text x="632.0" y="2208.2" font-family="Liberation Sans, sans-serif" font-size="15" fill="#2b2b2b" textLength="328.0" lengthAdjust="spacing">Note: The filter dimensions do not include the</text>
<text x="632.0" y="2226.9" font-family="Liberation Sans, sans-serif" font-size="15" fill="#2b2b2b" textLength="190.2" lengthAdjust="spacing">dimensions of sealing strip</text>
</svg>
</body></html>
